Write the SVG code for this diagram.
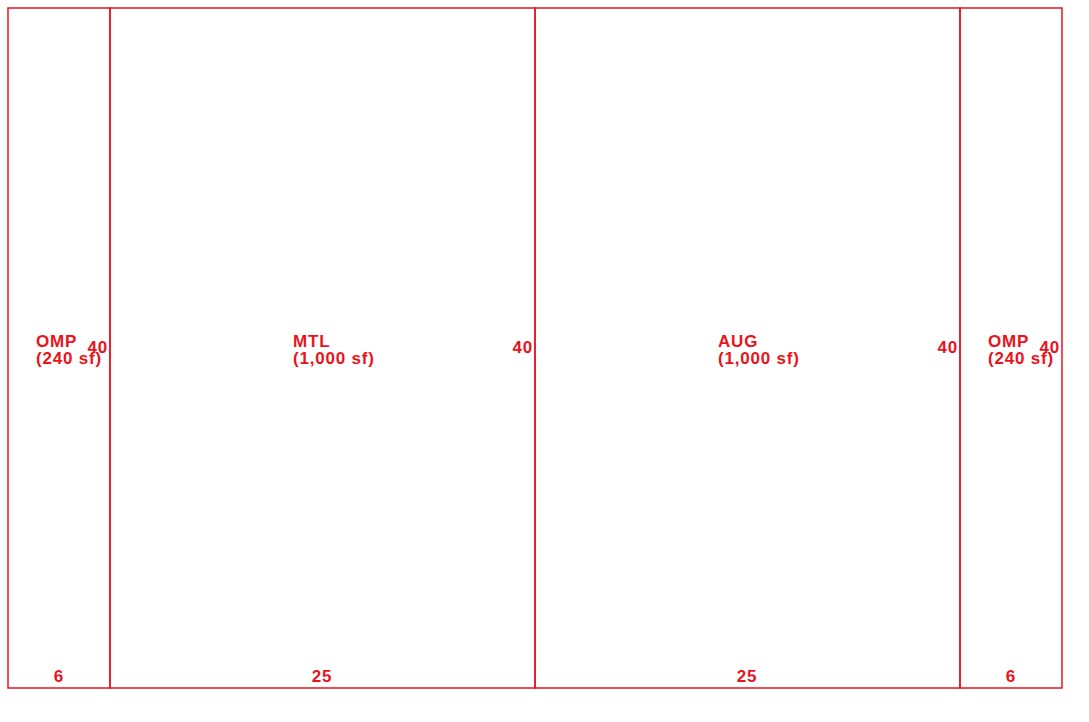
<svg xmlns="http://www.w3.org/2000/svg" width="1089" height="722" viewBox="0 0 1089 722">
<style>
rect{fill:none;stroke:#e8141c;stroke-width:1.5}
text{font-family:"Liberation Sans",Arial,sans-serif;font-weight:bold;font-size:17px;fill:#e8141c;letter-spacing:0.8px}
.r{text-anchor:end}
.m{text-anchor:middle}
</style>
<rect x="0" y="0" width="1089" height="722" style="fill:#fff;stroke:none"/>
<g id="omp1">
<rect x="8" y="8" width="102" height="680"/>
<text x="36" y="347">OMP</text>
<text x="36" y="364">(240 sf)</text>
<text class="r" x="108" y="353">40</text>
<text class="m" x="59" y="682">6</text>
</g>
<g id="mtl">
<rect x="110" y="8" width="425" height="680"/>
<text x="293" y="347">MTL</text>
<text x="293" y="364">(1,000 sf)</text>
<text class="r" x="533" y="353">40</text>
<text class="m" x="322" y="682">25</text>
</g>
<g id="aug">
<rect x="535" y="8" width="425" height="680"/>
<text x="718" y="347">AUG</text>
<text x="718" y="364">(1,000 sf)</text>
<text class="r" x="958" y="353">40</text>
<text class="m" x="747" y="682">25</text>
</g>
<g id="omp2">
<rect x="960" y="8" width="102" height="680"/>
<text x="988" y="347">OMP</text>
<text x="988" y="364">(240 sf)</text>
<text class="r" x="1060" y="353">40</text>
<text class="m" x="1011" y="682">6</text>
</g>
<g id="connectors"/>
</svg>
